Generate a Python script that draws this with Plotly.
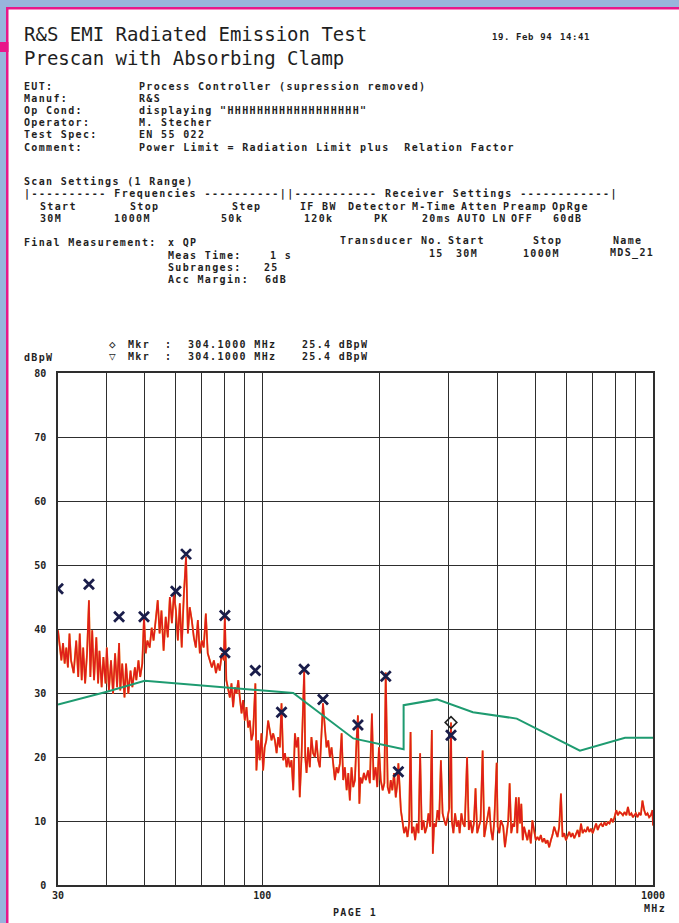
import plotly.graph_objects as go

# ---- measured scan (peak detector), frequency in MHz, level in dBpW ----
scan_freq_a = [30.0, 30.6, 30.9, 31.2, 31.5, 31.8, 32.1, 32.4, 32.9, 33.4, 33.8, 34.1, 34.5, 34.8, 35.2,
               35.6, 36.0, 36.3, 36.7, 37.1, 37.6, 38.0, 38.3, 38.8, 39.2, 39.7, 40.0, 40.5, 41.0, 41.5,
               42.0, 42.5, 43.0, 43.3, 43.8, 44.4, 44.8, 45.4, 46.0, 46.5, 47.2, 47.6, 48.2, 48.7, 49.3, 49.8]
scan_level_a = [39.8, 35.1, 37.8, 34.6, 37.1, 34.0, 39.3, 35.1, 33.1, 38.2, 32.5, 39.3, 32.0, 37.1, 31.5,
                36.2, 44.5, 32.5, 39.8, 32.0, 38.7, 31.5, 36.6, 30.9, 35.6, 31.5, 37.1, 30.4, 35.1, 29.9,
                36.2, 30.9, 37.8, 30.4, 34.6, 29.3, 34.6, 29.9, 33.5, 30.9, 34.0, 32.0, 35.1, 32.5, 34.6, 41.9]

scan_freq_b = [50.3, 50.8, 51.5, 52.1, 52.7, 53.4, 54.0, 54.6, 55.2, 55.9, 56.6, 57.3, 58.0, 58.7, 59.4,
               60.1, 60.8, 61.5, 62.2, 63.0, 63.8, 64.5, 65.2, 66.0, 66.8, 67.6, 68.4, 69.2, 70.0, 70.8,
               71.7, 72.5, 73.4, 74.3, 75.2, 76.1, 77.0, 77.8, 78.8, 79.7, 80.2]
scan_level_b = [36.2, 38.2, 37.1, 40.2, 38.2, 41.4, 44.5, 39.3, 42.9, 36.6, 41.9, 38.7, 45.0, 40.9, 45.5,
                42.9, 38.2, 44.0, 37.1, 45.5, 51.3, 39.3, 43.4, 41.4, 38.7, 37.1, 41.4, 36.2, 38.2, 37.1,
                42.4, 36.2, 35.1, 34.0, 35.1, 33.1, 34.6, 33.5, 36.2, 35.1, 42.1]

scan_freq_c = [80.9, 82.6, 83.4, 84.2, 85.1, 85.9, 86.8, 87.6, 88.5, 89.3,
               90.2, 91.1, 92.0, 92.9, 93.8, 94.7, 96.0, 96.6, 97.6, 98.5,
               99.5, 100.5, 101.4, 102.4, 103.5, 104.5, 105.6, 106.6, 107.7, 108.8,
               109.8, 110.9, 112.0, 113.1, 114.3, 115.4, 116.5, 117.6, 118.8, 120.0,
               121.2, 122.4, 123.6, 124.7, 126.0, 128.0, 128.8, 129.8, 131.0, 132.3,
               133.6, 134.9, 136.3, 137.6, 139.0, 140.4, 141.8, 143.0, 144.6, 146.0,
               147.5, 148.9, 150.4, 151.9, 153.4, 154.9, 156.4, 158.0, 159.6, 161.1,
               162.7, 164.4, 166.0, 167.5, 169.2, 170.9, 172.6, 174.3]
scan_level_c = [32.0, 29.3, 31.5, 27.8, 30.9, 29.9, 32.0, 29.3, 26.8, 28.9,
                25.7, 27.8, 24.6, 25.7, 22.6, 23.7, 31.5, 17.9, 22.6, 19.5,
                23.7, 17.9, 21.5, 22.6, 25.7, 24.2, 22.6, 23.7, 22.6, 20.6,
                23.1, 21.5, 28.4, 19.5, 20.6, 18.4, 20.0, 18.4, 19.5, 14.8,
                23.7, 21.5, 23.1, 13.7, 20.0, 33.5, 20.0, 17.5, 21.5, 18.4,
                23.1, 20.6, 20.0, 22.6, 19.5, 18.4, 23.7, 28.4, 24.6, 21.5,
                22.6, 20.0, 21.5, 18.4, 16.4, 18.4, 17.5, 19.0, 23.7, 16.4,
                18.4, 14.8, 17.5, 13.2, 18.4, 15.3, 16.4, 22.6]

scan_freq_d = [175.7, 177.2, 178.4, 180.1, 182.0, 184.1, 186.4, 188.5, 190.8, 192.7,
               195.0, 196.9, 198.9, 201.0, 203.3, 205.3, 207.0, 209.4, 211.4, 213.2,
               215.2, 217.4, 219.6, 221.7, 223.0, 226.3, 228.6, 230.7, 233.0, 235.3,
               237.6, 239.6, 241.4, 243.9, 246.2, 248.6, 251.1, 253.5, 256.0, 258.6,
               261.0, 263.7, 266.3, 268.9, 271.6, 273.2, 275.3, 278.1, 280.9, 283.6,
               286.5, 289.4, 292.2, 295.1, 298.1, 301.0, 304.1, 305.5, 308.4, 311.5,
               314.7, 317.7, 320.0, 323.3, 326.5, 329.7, 334.3, 337.7, 341.2, 344.4,
               347.9, 351.4, 354.8, 358.4, 362.0, 366.4, 369.9, 373.6, 377.4, 381.0,
               384.9, 388.7, 392.5, 398.0, 400.4, 404.2]
scan_level_d = [26.5, 12.7, 16.8, 15.9, 17.5, 16.4, 17.9, 15.9, 26.8, 16.4,
                18.4, 15.3, 21.5, 16.4, 14.8, 15.9, 33.2, 15.3, 14.3, 16.4,
                14.8, 17.5, 13.7, 15.9, 19.0, 11.7, 10.1, 8.1, 9.1, 7.5,
                9.6, 23.9, 8.1, 9.1, 7.0, 9.6, 8.1, 20.6, 8.6, 10.1,
                8.1, 9.1, 11.2, 9.1, 24.2, 4.9, 9.6, 9.1, 11.7, 10.1,
                19.5, 11.2, 10.1, 9.3, 10.6, 12.0, 25.4, 10.1, 8.1, 11.2,
                9.1, 10.1, 8.1, 11.2, 9.6, 9.1, 20.0, 8.6, 10.1, 8.1,
                9.6, 15.1, 8.1, 9.1, 10.1, 21.0, 7.5, 9.1, 10.6, 12.2,
                8.6, 7.0, 10.1, 19.1, 9.1, 8.1]

scan_freq_e = [408.0, 413.7, 417.9, 422.1, 426.1, 429.6, 433.7, 438.1, 441.5, 446.0,
               449.4, 453.2, 456.7, 460.2, 464.1, 467.7, 472.4, 476.9, 481.7, 486.6,
               491.2, 496.2, 501.2, 506.0, 511.1, 516.3, 521.3, 526.5, 531.8, 536.9,
               542.3, 547.8, 553.0, 558.6, 564.2, 569.6, 575.4, 581.3, 586.8, 592.7,
               598.7, 604.4, 610.5, 616.7, 622.6, 628.8, 635.2, 641.3, 647.7, 654.3,
               660.6, 667.2, 674.0, 680.4, 687.3, 694.3, 700.9, 708.0, 715.2, 722.0,
               729.4, 736.8, 743.8, 751.3, 758.9, 766.2, 773.9, 781.8, 789.3, 797.2,
               805.3, 813.0, 821.2, 829.6, 837.5, 845.9, 854.5, 862.7, 871.4, 880.3,
               888.0, 896.0, 904.0, 912.3, 921.5, 930.8, 939.7, 949.2, 958.8, 967.9,
               977.6, 987.4, 996.8, 1000.0]
scan_level_e = [10.1, 9.1, 5.9, 8.1, 10.1, 15.9, 8.1, 9.6, 9.1, 13.7,
                8.1, 13.7, 9.6, 12.7, 7.0, 9.1, 8.1, 7.0, 8.6, 6.5,
                10.1, 8.1, 7.0, 7.5, 7.0, 7.8, 6.7, 7.3, 6.5, 7.0,
                5.9, 7.0, 7.8, 9.1, 8.1, 7.5, 9.1, 14.3, 7.5, 8.1,
                7.0, 7.8, 8.3, 7.5, 8.1, 7.3, 8.1, 8.6, 7.5, 9.6,
                8.1, 8.6, 8.3, 9.1, 8.3, 8.8, 8.1, 8.8, 9.6, 8.6,
                9.3, 9.6, 9.1, 9.8, 9.3, 9.8, 9.6, 10.4, 9.8, 10.6,
                11.7, 10.9, 11.4, 11.2, 10.9, 11.4, 10.9, 12.2, 10.9, 11.2,
                10.6, 10.9, 11.2, 10.6, 11.2, 10.9, 13.2, 11.7, 10.9, 11.2,
                10.6, 10.9, 11.7, 9.3]

scan_freq = scan_freq_a + scan_freq_b + scan_freq_c + scan_freq_d + scan_freq_e
scan_level = scan_level_a + scan_level_b + scan_level_c + scan_level_d + scan_level_e
assert len(scan_freq) == len(scan_level)

# ---- power limit line (LP) ----
limit_freq = [30, 40, 50, 120, 171, 230, 230, 280, 346, 448, 650, 848, 1000]
limit_level = [28.2, 30.2, 31.9, 30.0, 22.9, 21.2, 28.1, 29.0, 27.0, 26.0, 21.0, 23.0, 23.0]

# ---- final measurement, quasi-peak results ----
qp_freq = [30.0, 36.0, 43.0, 49.8, 60.1, 63.8, 80.2, 80.2, 96.0, 112.0, 128.0, 143.0, 175.7, 207.0, 223.0, 304.1]
qp_level = [46.3, 47.0, 41.9, 41.9, 45.9, 51.7, 42.1, 36.3, 33.5, 27.0, 33.7, 29.0, 25.0, 32.6, 17.7, 23.4]

# ---- marker ----
mkr_freq = 304.1
mkr_level = 25.4

# ---- axes ----
x_grid = [30, 40, 50, 60, 70, 80, 90, 100, 200, 300, 400, 500, 600, 700, 800, 900, 1000]
x_labels = ["30", "", "", "", "", "", "", "100", "", "", "", "", "", "", "", "", "1000"]
y_grid = [0, 10, 20, 30, 40, 50, 60, 70, 80]

W, H = 679, 923
ML, MR, MT, MB = 58, 26, 373, 38
PW, PH = W - ML - MR, H - MT - MB

INK = "#1f1f1f"
MONO = "DejaVu Sans Mono"
BODY = 10          # plotter text: small glyphs ...
SPACING = 1.35     # ... on a wide character pitch

NB = "\u00a0"


def px(x, y):
    """Page pixel position -> paper coordinates."""
    return (x - ML) / PW, (H - MB - y) / PH


fig = go.Figure()

fig.add_trace(go.Scatter(x=scan_freq, y=scan_level, mode="lines",
                         line=dict(color="#f4a62a", width=1.9), hoverinfo="skip", showlegend=False))
fig.add_trace(go.Scatter(x=scan_freq, y=scan_level, mode="lines",
                         line=dict(color="#df1f1a", width=1.6), showlegend=False))
fig.add_trace(go.Scatter(x=limit_freq, y=limit_level, mode="lines",
                         line=dict(color="#1e9b70", width=2), showlegend=False))
fig.add_trace(go.Scatter(x=qp_freq, y=qp_level, mode="markers",
                         marker=dict(symbol="x-thin", size=10, line=dict(color="#1a1d4a", width=2.8)),
                         showlegend=False))
fig.add_trace(go.Scatter(x=[mkr_freq], y=[mkr_level], mode="markers",
                         marker=dict(symbol="diamond-open", size=9, color="#222",
                                     line=dict(color="#222", width=1.6)),
                         showlegend=False))

annotations = []


def note(text, x, y, size=BODY, bold=True, anchor="left", color=INK, spacing=SPACING):
    ax, ay = px(x, y)
    body = text.replace(" ", NB)
    if spacing:
        body = f'<span style="letter-spacing:{spacing}px">{body}</span>'
    annotations.append(dict(
        text=body, x=ax, y=ay, xref="paper", yref="paper", showarrow=False,
        xanchor=anchor, yanchor="middle",
        font=dict(family=MONO, size=size, color=color, weight="bold" if bold else "normal"),
    ))


# title block
note("R&amp;S EMI Radiated Emission Test", 22, 34, size=19, bold=False, spacing=0)
note("Prescan with Absorbing Clamp", 22, 58, size=19, bold=False, spacing=0)
note("19. Feb 94", 490, 37, size=9, spacing=0.6)
note("14:41", 592, 37, size=9, anchor="right", spacing=0.6)

header_rows = [
    ("EUT:", "Process Controller (supression removed)", 86),
    ("Manuf:", "R&amp;S", 98),
    ("Op Cond:", "displaying \"HHHHHHHHHHHHHHHHHH\"", 110),
    ("Operator:", "M. Stecher", 122),
    ("Test Spec:", "EN 55 022", 134),
    ("Comment:", "Power Limit = Radiation Limit plus  Relation Factor", 147),
]
for label, value, yy in header_rows:
    note(label, 22, yy)
    note(value, 137, yy)

note("Scan Settings (1 Range)", 22, 181)
note("|" + "-" * 10 + " Frequencies " + "-" * 10 + "||" + "-" * 11 + " Receiver Settings " + "-" * 12 + "|",
     22, 194, spacing=1.5)

for text, xx in [("Start", 38), ("Stop", 128), ("Step", 230), ("IF BW", 298), ("Detector", 346),
                 ("M-Time", 410), ("Atten", 459), ("Preamp", 501), ("OpRge", 550)]:
    note(text, xx, 206)
for text, xx in [("30M", 38), ("1000M", 112), ("50k", 219), ("120k", 302), ("PK", 372),
                 ("20ms", 420), ("AUTO", 455), ("LN", 490), ("OFF", 509), ("60dB", 551)]:
    note(text, xx, 218)

note("Final Measurement:", 22, 242)
note("x QP", 166, 242)
note("Meas Time:", 166, 255)
note("1 s", 268, 255)
note("Subranges:", 166, 267)
note("25", 262, 267)
note("Acc Margin:", 166, 279)
note("6dB", 263, 279)

for text, xx in [("Transducer", 338), ("No.", 419), ("Start", 446), ("Stop", 531), ("Name", 611)]:
    note(text, xx, 240)
for text, xx in [("15", 427), ("30M", 454), ("1000M", 521), ("MDS_21", 608)]:
    note(text, xx, 253)

# marker readout
for sym, yy in [("\u25c7", 344), ("\u25bd", 356)]:
    note(sym, 112, yy, size=11, anchor="center", spacing=0)
    note("Mkr", 126, yy)
    note(":", 163, yy)
    note(f"{mkr_freq:.4f} MHz", 186, yy)
    note(f"{mkr_level:.1f} dBpW", 300, yy)

note("dBpW", 22, 357)
note("MHz", 655, 908, anchor="center")
note("PAGE 1", 355, 912, anchor="center")

# limit line tag
annotations.append(dict(text="LP", x=1000, y=limit_level[-1], xref="x", yref="y", xanchor="left",
                        yanchor="middle", xshift=3, showarrow=False,
                        font=dict(family=MONO, size=10, color="#1e9b70", weight="bold")))

# page frame: blue surround with magenta edge and tab
PINK = "#e8168a"
BLUE = "#98b4dc"
shapes = []


def rect(x0, y0, x1, y1, color):
    a0, b0 = px(x0, y0)
    a1, b1 = px(x1, y1)
    shapes.append(dict(type="rect", xref="paper", yref="paper", x0=a0, y0=b0, x1=a1, y1=b1,
                       fillcolor=color, line=dict(width=0), layer="above"))


rect(0, 0, W, 7, BLUE)
rect(0, 0, 6, H, BLUE)
rect(6, 7, W, 9.5, PINK)
rect(6, 7, 8.5, H, PINK)
rect(0, 42, 8.5, 52, PINK)

tick_font = dict(family=MONO, size=10, color=INK, weight="bold")
fig.update_layout(
    width=W, height=H,
    margin=dict(l=ML, r=MR, t=MT, b=MB, pad=0),
    paper_bgcolor="white", plot_bgcolor="white",
    annotations=annotations, shapes=shapes,
    xaxis=dict(type="log", range=[1.4771213, 3.0], tickvals=x_grid, ticktext=x_labels,
               showgrid=True, gridcolor="#2e2e2e", gridwidth=1.2,
               showline=True, mirror=True, linecolor="#2e2e2e", linewidth=1.5,
               zeroline=False, ticks="", tickfont=tick_font),
    yaxis=dict(range=[0, 80], tickvals=y_grid,
               showgrid=True, gridcolor="#2e2e2e", gridwidth=1.2,
               showline=True, mirror=True, linecolor="#2e2e2e", linewidth=1.5,
               zeroline=False, ticks="", ticklabelstandoff=8, tickfont=tick_font),
    showlegend=False,
)

fig.write_html("out.html")
